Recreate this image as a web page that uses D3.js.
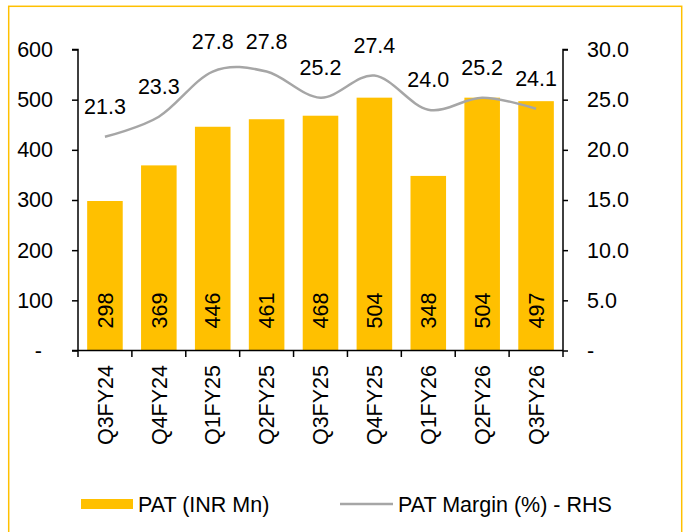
<!DOCTYPE html>
<html>
<head>
<meta charset="utf-8">
<script src="https://cdn.jsdelivr.net/npm/d3@7"></script>
<style>
  html, body { margin: 0; padding: 0; background: #fff; }
  svg { display: block; font-family: "Liberation Sans", Arial, sans-serif; }
</style>
</head>
<body>
<div id="chart"></div>
<script>
const categories = ['Q3FY24', 'Q4FY24', 'Q1FY25', 'Q2FY25', 'Q3FY25', 'Q4FY25', 'Q1FY26', 'Q2FY26', 'Q3FY26'];
const patValues = [298, 369, 446, 461, 468, 504, 348, 504, 497];
const marginValues = [21.3, 23.3, 27.8, 27.8, 25.2, 27.4, 24.0, 25.2, 24.1];
const leftTicks = [0, 100, 200, 300, 400, 500, 600];
const rightTicks = [0, 5, 10, 15, 20, 25, 30];
const legendLabels = ['PAT (INR Mn)', 'PAT Margin (%) - RHS'];

const W = 687, H = 532;
const plot = { left: 78, right: 563, top: 49.5, bottom: 350.5 };
const barColor = '#FFC000';
const lineColor = '#A6A6A6';
const fontSize = '21.5px';

const svg = d3.select('#chart').append('svg')
  .attr('width', W)
  .attr('height', H);

// frame
svg.append('rect')
  .attr('x', 8.7).attr('y', 6.3)
  .attr('width', 673).attr('height', 540)
  .attr('fill', 'none')
  .attr('stroke', barColor)
  .attr('stroke-width', 1.5);

const x = d3.scaleBand()
  .domain(categories)
  .range([plot.left, plot.right])
  .paddingInner(0.34)
  .paddingOuter(0.17);

const yL = d3.scaleLinear().domain([0, 600]).range([plot.bottom, plot.top]);
const yR = d3.scaleLinear().domain([0, 30]).range([plot.bottom, plot.top]);

// Bars
svg.append('g').selectAll('rect')
  .data(patValues).join('rect')
  .attr('x', (d, i) => x(categories[i]))
  .attr('y', d => yL(d))
  .attr('width', x.bandwidth())
  .attr('height', d => yL(0) - yL(d))
  .attr('fill', barColor);

// Bar labels (inside base, rotated)
svg.append('g').selectAll('text')
  .data(patValues).join('text')
  .attr('transform', (d, i) => `translate(${x(categories[i]) + x.bandwidth() / 2},${yL(0) - 40}) rotate(-90)`)
  .attr('text-anchor', 'middle')
  .attr('dy', '0.36em')
  .attr('font-size', fontSize)
  .attr('fill', '#000')
  .text(d => d);

// Margin line
const cx = i => x(categories[i]) + x.bandwidth() / 2;
const line = d3.line()
  .x((d, i) => cx(i))
  .y(d => yR(d))
  .curve(d3.curveCardinal.tension(0));

svg.append('path')
  .datum(marginValues)
  .attr('d', line)
  .attr('fill', 'none')
  .attr('stroke', lineColor)
  .attr('stroke-width', 2.5);

svg.append('g').selectAll('text')
  .data(marginValues).join('text')
  .attr('x', (d, i) => cx(i))
  .attr('y', d => yR(d) - 23)
  .attr('text-anchor', 'middle')
  .attr('font-size', fontSize)
  .attr('fill', '#000')
  .text(d => d.toFixed(1));

// Left axis
const axL = svg.append('g')
  .attr('transform', `translate(${plot.left},0)`)
  .call(d3.axisLeft(yL).tickValues(leftTicks).tickSize(6).tickPadding(19)
    .tickFormat(d => d === 0 ? '-' : d));
axL.select('.domain').attr('d', `M-6,${yL(600)}H0V${yL(0)}`);
axL.selectAll('.tick text').filter(d => d === 0).attr('x', -36);

// Right axis
const axR = svg.append('g')
  .attr('transform', `translate(${plot.right},0)`)
  .call(d3.axisRight(yR).tickValues(rightTicks).tickSize(5).tickPadding(19)
    .tickFormat(d => d === 0 ? '-' : d.toFixed(1)));
axR.select('.domain').attr('d', `M5,${yR(30)}H0V${yR(0)}`);

[axL, axR].forEach(ax => {
  ax.selectAll('.domain, .tick line').attr('stroke', '#000').attr('stroke-width', 1.5);
  ax.selectAll('.tick text').attr('font-size', fontSize).attr('fill', '#000')
    .attr('font-family', '"Liberation Sans", Arial, sans-serif');
});

// Bottom axis
const axB = svg.append('g');
axB.append('line')
  .attr('x1', plot.left - 6).attr('x2', plot.right)
  .attr('y1', plot.bottom).attr('y2', plot.bottom)
  .attr('stroke', '#000').attr('stroke-width', 1.5);
axB.selectAll('line.tk')
  .data(d3.range(categories.length + 1)).join('line')
  .attr('class', 'tk')
  .attr('x1', i => plot.left + i * x.step()).attr('x2', i => plot.left + i * x.step())
  .attr('y1', plot.bottom).attr('y2', plot.bottom + 6.5)
  .attr('stroke', '#000').attr('stroke-width', 1.5);
axB.selectAll('text')
  .data(categories).join('text')
  .attr('transform', (d, i) => `translate(${cx(i)},${plot.bottom + 14.5}) rotate(-90)`)
  .attr('text-anchor', 'end')
  .attr('dy', '0.36em')
  .attr('font-size', fontSize)
  .attr('fill', '#000')
  .text(d => d);

// Legend
const lg = svg.append('g');
lg.append('rect')
  .attr('x', 81).attr('y', 499)
  .attr('width', 52).attr('height', 10)
  .attr('fill', barColor);
lg.append('text')
  .attr('x', 138).attr('y', 504)
  .attr('dy', '0.36em')
  .attr('font-size', fontSize)
  .text(legendLabels[0]);
lg.append('line')
  .attr('x1', 340).attr('x2', 393)
  .attr('y1', 504).attr('y2', 504)
  .attr('stroke', lineColor).attr('stroke-width', 2.5);
lg.append('text')
  .attr('x', 398).attr('y', 504)
  .attr('dy', '0.36em')
  .attr('font-size', fontSize)
  .text(legendLabels[1]);
</script>
</body>
</html>
